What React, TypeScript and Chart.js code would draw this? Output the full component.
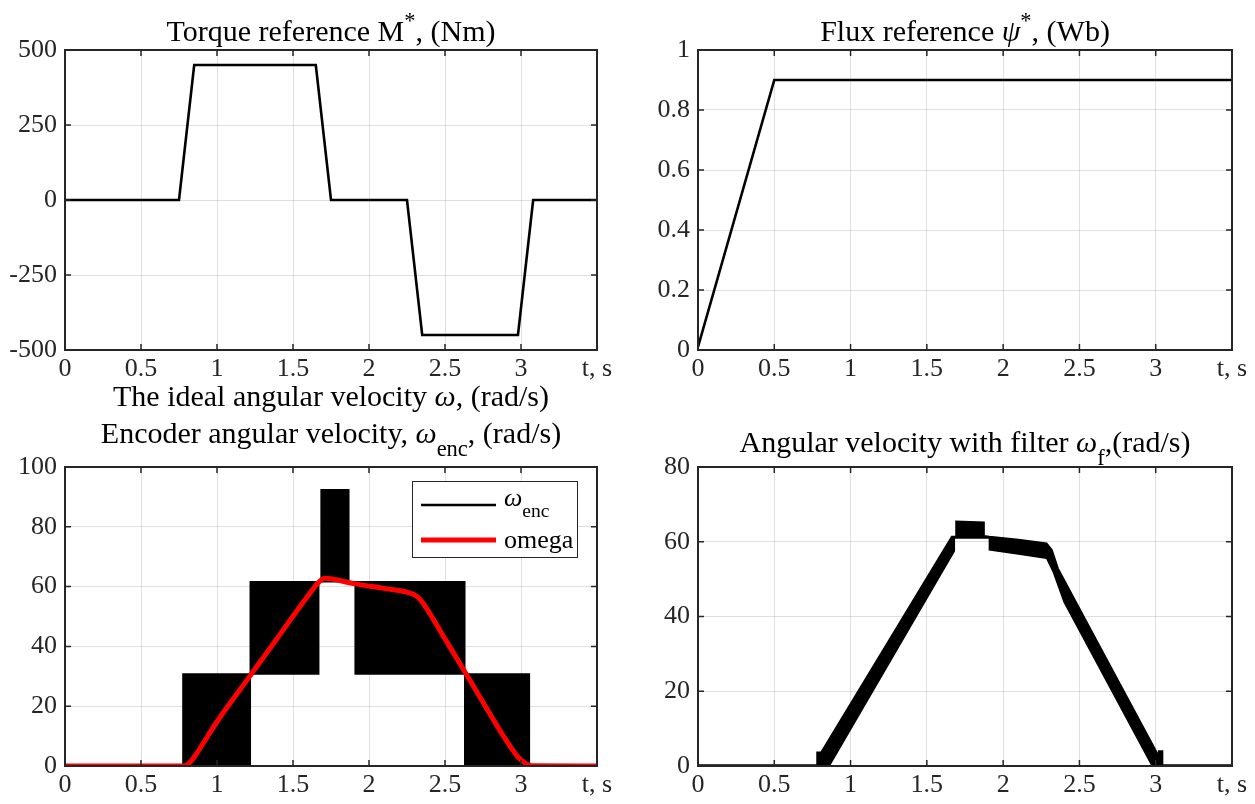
import React, { useEffect, useRef } from 'react';
import { Chart, registerables } from 'chart.js';

Chart.register(...registerables);

const W = 1255;
const H = 804;
const FAMILY = '"Liberation Serif", "Times New Roman", serif';
const AXIS_COLOR = '#262626';
const GRID_COLOR = 'rgba(38,38,38,0.15)';

// ---------- data ----------
const xTicks = [0, 0.5, 1, 1.5, 2, 2.5, 3, 3.5];
const xTickLabels = ['0', '0.5', '1', '1.5', '2', '2.5', '3', 't, s'];

const torqueTicks = [-500, -250, 0, 250, 500];
const torqueT = [0, 0.75, 0.85, 1.65, 1.75, 2.25, 2.35, 2.98, 3.08, 3.5];
const torqueV = [0, 0, 450, 450, 0, 0, -450, -450, 0, 0];

const fluxTicks = [0, 0.2, 0.4, 0.6, 0.8, 1];
const fluxTickLabels = ['0', '0.2', '0.4', '0.6', '0.8', '1'];
const fluxT = [0, 0.5, 3.5];
const fluxV = [0.01, 0.9, 0.9];

const encTicks = [0, 20, 40, 60, 80, 100];
// encoder velocity: quantised signal, each segment oscillates between low and high level
const encStart = [0, 0.776, 1.219, 1.669, 1.685, 1.867, 1.909, 2.63, 3.055];
const encEnd = [0.776, 1.219, 1.669, 1.685, 1.867, 1.909, 2.63, 3.055, 3.5];
const encLow = [0, 0, 30.8, 61.6, 61.6, 61.6, 30.8, 0, 0];
const encHigh = [0, 30.8, 61.6, 61.6, 92.4, 61.6, 61.6, 30.8, 0];

const omegaT = [0, 0.77, 0.8, 0.83, 0.87, 1.0, 1.22, 1.4, 1.6, 1.67, 1.71, 1.75, 1.9, 2.1, 2.26, 2.3, 2.34, 2.5, 2.7, 2.9, 2.98, 3.03, 3.07, 3.5];
const omegaV = [0, 0, 0.3, 1.6, 4.5, 14.8, 30.3, 43, 57, 61.5, 62.8, 62.6, 61, 59.4, 58, 57.2, 55.5, 42.5, 25.6, 8.8, 3, 0.9, 0.1, 0];

const filtTicks = [0, 20, 40, 60, 80];
// filtered velocity: upper and lower envelope of the oscillating band
const filtHiT = [0, 0.78, 0.78, 0.807, 1.663, 1.691, 1.691, 1.875, 1.875, 1.91, 2.1, 2.285, 2.32, 2.36, 2.62, 3.02, 3.02, 3.045, 3.045, 3.5];
const filtHiV = [0.3, 0.3, 3.7, 3.7, 61.4, 61.4, 65.5, 65.2, 61.6, 61.4, 60.6, 59.6, 57.8, 52.9, 33.1, 2.7, 4.0, 4.0, 0.3, 0.3];
const filtLoT = [0, 0.86, 1.68, 1.68, 1.91, 1.91, 2.1, 2.285, 2.33, 2.4, 2.977, 3.5];
const filtLoV = [0, 0, 57.5, 61.0, 61.0, 57.8, 56.7, 55.6, 51.8, 43.8, 0, 0];

// ---------- helpers ----------
type Seg = { t: string; it?: boolean; sup?: boolean; sub?: boolean };
type TitleLine = { segs: Seg[]; baseline: number };

function zip(t: number[], v: number[]) {
  return t.map((x, i) => ({ x, y: v[i] }));
}

function segPoints(start: number[], end: number[], lvl: number[]) {
  const pts: { x: number; y: number }[] = [];
  start.forEach((s, i) => {
    pts.push({ x: s, y: lvl[i] });
    pts.push({ x: end[i], y: lvl[i] });
  });
  return pts;
}

function drawRich(ctx: CanvasRenderingContext2D, segs: Seg[], cx: number, baseline: number, size: number, align: 'center' | 'left' = 'center') {
  const small = size * 0.75;
  const fontOf = (s: Seg) => `${s.it ? 'italic ' : ''}${s.sup || s.sub ? small : size}px ${FAMILY}`;
  let total = 0;
  const widths = segs.map((s) => {
    ctx.font = fontOf(s);
    const w = ctx.measureText(s.t).width;
    total += w;
    return w;
  });
  let x = align === 'center' ? cx - total / 2 : cx;
  ctx.textAlign = 'left';
  ctx.textBaseline = 'alphabetic';
  segs.forEach((s, i) => {
    ctx.font = fontOf(s);
    const y = baseline + (s.sup ? -size * 0.42 : s.sub ? size * 0.42 : 0);
    ctx.fillText(s.t, x, y);
    x += widths[i];
  });
}

type Spec = {
  plot: { l: number; t: number; r: number; b: number };
  yMin: number;
  yMax: number;
  yTicks: number[];
  yLabels: string[];
  datasets: any[];
  titles: TitleLine[];
  legend?: boolean;
};

const YW = 70;
const XH = 40;
const TITLE_SIZE = 30;
const TICK_SIZE = 26;

function makeChart(canvas: HTMLCanvasElement, spec: Spec) {
  const tickFont = { family: FAMILY, size: TICK_SIZE };
  const plugin = {
    id: 'matlabFrame',
    afterDatasetsDraw(chart: any) {
      const { ctx, chartArea: a, scales } = chart;
      ctx.save();
      ctx.strokeStyle = AXIS_COLOR;
      ctx.lineWidth = 1.5;
      const tl = 6;
      ctx.beginPath();
      for (const t of scales.x.ticks) {
        const px = scales.x.getPixelForValue(t.value);
        ctx.moveTo(px, a.bottom);
        ctx.lineTo(px, a.bottom - tl);
        ctx.moveTo(px, a.top);
        ctx.lineTo(px, a.top + tl);
      }
      for (const t of scales.y.ticks) {
        const py = scales.y.getPixelForValue(t.value);
        ctx.moveTo(a.left, py);
        ctx.lineTo(a.left + tl, py);
        ctx.moveTo(a.right, py);
        ctx.lineTo(a.right - tl, py);
      }
      ctx.stroke();
      ctx.lineWidth = 2;
      ctx.strokeRect(a.left, a.top, a.right - a.left, a.bottom - a.top);
      ctx.restore();
    },
    afterDraw(chart: any) {
      const { ctx, chartArea: a } = chart;
      ctx.save();
      ctx.fillStyle = '#000';
      const cx = (a.left + a.right) / 2;
      spec.titles.forEach((line) => drawRich(ctx, line.segs, cx, line.baseline, TITLE_SIZE));
      if (spec.legend) {
        const bx = 412.5, by = 481.5, bw = 165, bh = 76;
        ctx.fillStyle = '#fff';
        ctx.fillRect(bx, by, bw, bh);
        ctx.strokeStyle = AXIS_COLOR;
        ctx.lineWidth = 1;
        ctx.strokeRect(bx, by, bw, bh);
        ctx.lineCap = 'butt';
        ctx.strokeStyle = '#000';
        ctx.lineWidth = 2.5;
        ctx.beginPath();
        ctx.moveTo(421, 505);
        ctx.lineTo(496, 505);
        ctx.stroke();
        ctx.strokeStyle = '#ff0000';
        ctx.lineWidth = 5;
        ctx.beginPath();
        ctx.moveTo(421, 540);
        ctx.lineTo(496, 540);
        ctx.stroke();
        ctx.fillStyle = '#000';
        drawRich(ctx, [{ t: 'ω', it: true }, { t: 'enc', sub: true }], 504, 506, 26, 'left');
        drawRich(ctx, [{ t: 'omega' }], 504, 548, 26, 'left');
      }
      ctx.restore();
    },
  };

  const { plot } = spec;
  return new Chart(canvas, {
    type: 'line',
    data: { datasets: spec.datasets },
    options: {
      responsive: false,
      animation: false,
      devicePixelRatio: 1,
      events: [],
      layout: {
        padding: { left: plot.l - YW, top: plot.t, right: W - plot.r, bottom: H - plot.b - XH },
      },
      elements: { point: { radius: 0 }, line: { tension: 0 } },
      plugins: { legend: { display: false }, tooltip: { enabled: false }, title: { display: false } },
      scales: {
        x: {
          type: 'linear',
          min: 0,
          max: 3.5,
          afterBuildTicks: (s: any) => {
            s.ticks = xTicks.map((v) => ({ value: v }));
          },
          afterFit: (s: any) => {
            s.height = XH;
            s.paddingLeft = 0;
            s.paddingRight = 0;
          },
          ticks: {
            autoSkip: false,
            maxRotation: 0,
            padding: 4,
            color: AXIS_COLOR,
            font: tickFont,
            callback: (_v: any, i: number) => xTickLabels[i],
          },
          grid: { color: GRID_COLOR, lineWidth: 1, drawTicks: false },
          border: { display: false },
        },
        y: {
          type: 'linear',
          min: spec.yMin,
          max: spec.yMax,
          afterBuildTicks: (s: any) => {
            s.ticks = spec.yTicks.map((v) => ({ value: v }));
          },
          afterFit: (s: any) => {
            s.width = YW;
            s.paddingTop = 0;
            s.paddingBottom = 0;
          },
          ticks: {
            autoSkip: false,
            padding: 8,
            color: AXIS_COLOR,
            font: tickFont,
            callback: (_v: any, i: number) => spec.yLabels[i],
          },
          grid: { color: GRID_COLOR, lineWidth: 1, drawTicks: false },
          border: { display: false },
        },
      },
    } as any,
    plugins: [plugin],
  });
}

function line(data: any[], color: string, width: number, extra: any = {}) {
  return { data, borderColor: color, backgroundColor: color, borderWidth: width, pointRadius: 0, fill: false, ...extra };
}

const specs: Spec[] = [
  {
    plot: { l: 65, t: 50, r: 597, b: 350 },
    yMin: -500,
    yMax: 500,
    yTicks: torqueTicks,
    yLabels: torqueTicks.map(String),
    datasets: [line(zip(torqueT, torqueV), '#000', 2.6)],
    titles: [{ segs: [{ t: 'Torque reference M' }, { t: '*', sup: true }, { t: ', (Nm)' }], baseline: 41 }],
  },
  {
    plot: { l: 698, t: 50, r: 1232, b: 350 },
    yMin: 0,
    yMax: 1,
    yTicks: fluxTicks,
    yLabels: fluxTickLabels,
    datasets: [line(zip(fluxT, fluxV), '#000', 2.6)],
    titles: [{ segs: [{ t: 'Flux reference ' }, { t: 'ψ', it: true }, { t: '*', sup: true }, { t: ', (Wb)' }], baseline: 41 }],
  },
  {
    plot: { l: 65, t: 467, r: 597, b: 766 },
    yMin: 0,
    yMax: 100,
    yTicks: encTicks,
    yLabels: encTicks.map(String),
    datasets: [
      line(zip(omegaT, omegaV), '#ff0000', 5, { order: 0, cubicInterpolationMode: 'monotone' }),
      line(segPoints(encStart, encEnd, encHigh), '#000', 1.5, { order: 1, fill: '+1', backgroundColor: '#000' }),
      line(segPoints(encStart, encEnd, encLow), '#000', 1.5, { order: 2 }),
    ],
    titles: [
      { segs: [{ t: 'The ideal angular velocity ' }, { t: 'ω', it: true }, { t: ', (rad/s)' }], baseline: 406 },
      { segs: [{ t: 'Encoder angular velocity, ' }, { t: 'ω', it: true }, { t: 'enc', sub: true }, { t: ', (rad/s)' }], baseline: 443 },
    ],
    legend: true,
  },
  {
    plot: { l: 698, t: 467, r: 1232, b: 766 },
    yMin: 0,
    yMax: 80,
    yTicks: filtTicks,
    yLabels: filtTicks.map(String),
    datasets: [
      line(zip(filtHiT, filtHiV), '#000', 1.5, { fill: '+1', backgroundColor: '#000' }),
      line(zip(filtLoT, filtLoV), '#000', 1.5),
    ],
    titles: [{ segs: [{ t: 'Angular velocity with filter ' }, { t: 'ω', it: true }, { t: 'f', sub: true }, { t: ',(rad/s)' }], baseline: 452 }],
  },
];

export default function App() {
  const refs = [useRef<HTMLCanvasElement>(null), useRef<HTMLCanvasElement>(null), useRef<HTMLCanvasElement>(null), useRef<HTMLCanvasElement>(null)];
  useEffect(() => {
    const charts = specs.map((s, i) => makeChart(refs[i].current as HTMLCanvasElement, s));
    return () => charts.forEach((c) => c.destroy());
  }, []);
  return (
    <div style={{ position: 'absolute', left: 0, top: 0, width: W, height: H, background: '#fff', overflow: 'hidden' }}>
      {refs.map((r, i) => (
        <canvas key={i} ref={r} width={W} height={H} style={{ position: 'absolute', left: 0, top: 0, width: W, height: H }} />
      ))}
    </div>
  );
}
